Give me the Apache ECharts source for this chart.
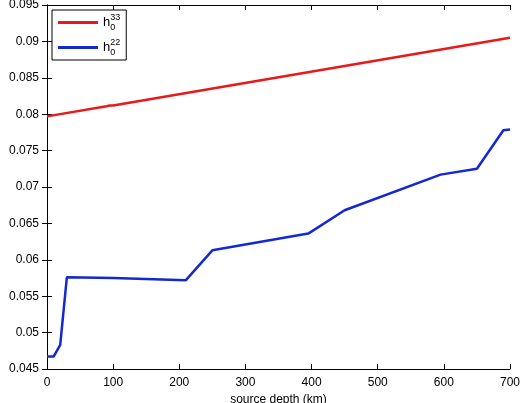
<!DOCTYPE html>
<html><head><meta charset="utf-8">
<script src="https://cdn.jsdelivr.net/npm/echarts@6/dist/echarts.min.js"></script>
<style>body{margin:0}#b{width:520px;height:403px}</style>
</head><body><div id="b"></div>
<script>
var depth33=[0,90,95,100,700];
var h33=[0.0797,0.0811,0.0812,0.0812,0.0905];
var depth22=[0,10,20,30,100,210,250,395,450,595,650,690,700];
var h22=[0.0467,0.0467,0.0483,0.0576,0.0575,0.0572,0.0613,0.0636,0.0668,0.0717,0.0725,0.0778,0.0779];
function pairs(x,y){return x.map(function(v,i){return [v,y[i]];});}
var myChart=echarts.init(document.getElementById('b'));
var ax={color:'#000',fontFamily:'Liberation Sans',fontSize:12};
var line={lineStyle:{color:'#000'}};
option={
  animation:false,
  grid:{left:47,right:10,top:5,bottom:34,outerBoundsMode:'none',containLabel:false},
  xAxis:[{type:'value',min:0,max:700,interval:100,name:'source depth (km)',nameLocation:'middle',nameGap:22,
    nameTextStyle:ax,axisLabel:ax,splitLine:{show:false},
    axisLine:line,axisTick:{inside:true,lineStyle:{color:'#000'}}},
    {type:'value',position:'top',min:0,max:700,interval:100,axisLabel:{show:false},splitLine:{show:false},
    axisLine:line,axisTick:{inside:true,lineStyle:{color:'#000'}}}],
  yAxis:[{type:'value',min:0.045,max:0.095,interval:0.005,name:'Love numbers values',nameLocation:'middle',nameGap:36,
    nameTextStyle:ax,axisLabel:ax,splitLine:{show:false},
    axisLine:line,axisTick:{inside:true,lineStyle:{color:'#000'}}},
    {type:'value',position:'right',min:0.045,max:0.095,interval:0.005,axisLabel:{show:false},splitLine:{show:false},
    axisLine:line,axisTick:{inside:true,lineStyle:{color:'#000'}}}],
  legend:{left:52,top:10,orient:'vertical',itemWidth:40,itemHeight:3,itemGap:6,borderColor:'#000',borderWidth:1,borderRadius:0,padding:[3,6],
    backgroundColor:'#fff',icon:'rect',
    formatter:function(n){return n=='h33'?'{b|h}{d|0}{s|33}':'{b|h}{d|0}{s|22}';},
    textStyle:{rich:{b:{fontSize:13,fontFamily:'Liberation Sans',color:'#000'},
      d:{fontSize:9,fontFamily:'Liberation Sans',color:'#000',padding:[10,0,0,0]},
      s:{fontSize:9,fontFamily:'Liberation Sans',color:'#000',padding:[0,0,10,-5]}}},
    data:['h33','h22']},
  series:[
    {name:'h33',type:'line',data:pairs(depth33,h33),showSymbol:false,color:'#e8191a',lineStyle:{width:2.5,color:'#e8191a'}},
    {name:'h22',type:'line',data:pairs(depth22,h22),showSymbol:false,color:'#1428d2',lineStyle:{width:2.5,color:'#1428d2'}}
  ]
};
myChart.setOption(option);
</script></body></html>
